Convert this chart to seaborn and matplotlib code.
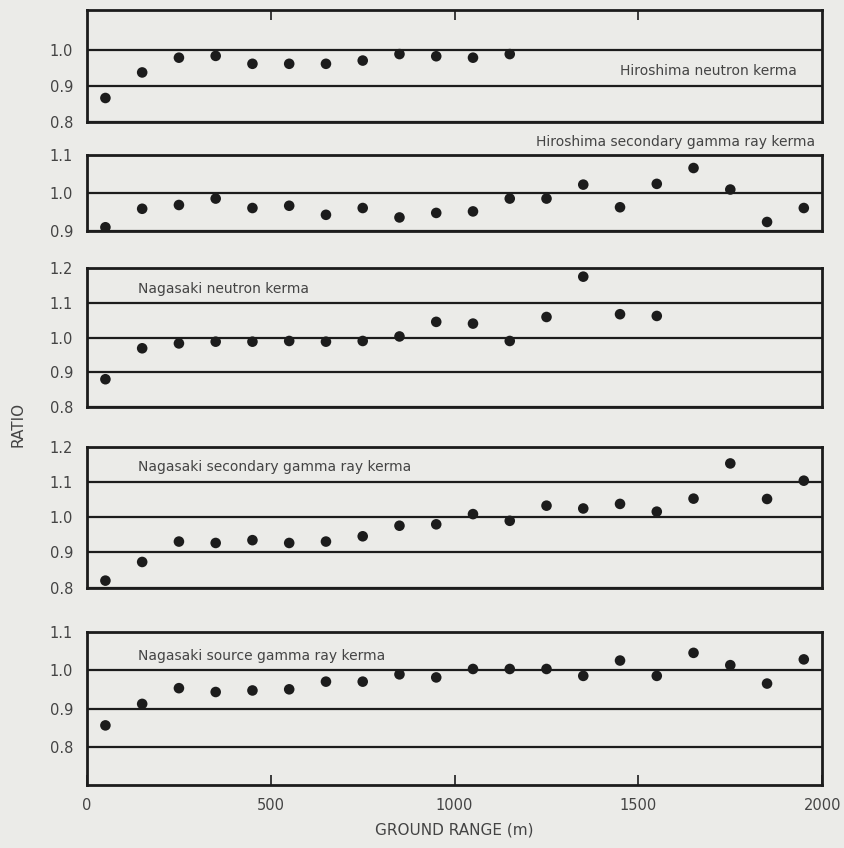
import matplotlib.pyplot as plt
import seaborn as sns
import pandas as pd

# ground range of each measurement (m)
ground_range = [50, 150, 250, 350, 450, 550, 650, 750, 850, 950,
                1050, 1150, 1250, 1350, 1450, 1550, 1650, 1750, 1850, 1950]

# ratios
hiro_neutron = [0.867, 0.938, 0.979, 0.984, 0.962, 0.962, 0.962, 0.971,
                0.989, 0.983, 0.979, 0.989]
hiro_sec_gamma = [0.909, 0.958, 0.968, 0.985, 0.960, 0.966, 0.942, 0.960,
                  0.935, 0.947, 0.951, 0.985, 0.985, 1.022, 0.962, 1.024,
                  1.066, 1.009, 0.923, 0.960]
naga_neutron = [0.880, 0.969, 0.983, 0.988, 0.988, 0.990, 0.988, 0.990,
                1.003, 1.045, 1.040, 0.990, 1.059, 1.175, 1.067, 1.062]
naga_sec_gamma = [0.820, 0.873, 0.931, 0.927, 0.935, 0.927, 0.931, 0.946,
                  0.976, 0.980, 1.009, 0.990, 1.033, 1.025, 1.038, 1.016,
                  1.053, 1.153, 1.052, 1.104]
naga_src_gamma = [0.856, 0.912, 0.953, 0.943, 0.947, 0.950, 0.970, 0.970,
                  0.989, 0.981, 1.003, 1.003, 1.003, 0.985, 1.025, 0.985,
                  1.045, 1.013, 0.965, 1.028]

panel_names = ["Hiroshima neutron kerma",
               "Hiroshima secondary gamma ray kerma",
               "Nagasaki neutron kerma",
               "Nagasaki secondary gamma ray kerma",
               "Nagasaki source gamma ray kerma"]
panel_values = [hiro_neutron, hiro_sec_gamma, naga_neutron,
                naga_sec_gamma, naga_src_gamma]
panel_ticks = [[0.8, 0.9, 1.0],
               [0.9, 1.0, 1.1],
               [0.8, 0.9, 1.0, 1.1, 1.2],
               [0.8, 0.9, 1.0, 1.1, 1.2],
               [0.8, 0.9, 1.0, 1.1]]
x_ticks = [0, 500, 1000, 1500, 2000]

paper = "#ebebe8"
ink = "#1c1c1c"
grey_text = "#444444"

sns.set_theme(style="white", rc={"figure.facecolor": paper, "axes.facecolor": paper})
plt.rcParams["font.family"] = ["DejaVu Sans"]

fig = plt.figure(figsize=(8.45, 8.48), dpi=100)

# axes rectangles [left, bottom, width, height] in figure fraction
rects = [[0.103, 0.856, 0.870, 0.132],
         [0.103, 0.728, 0.870, 0.089],
         [0.103, 0.520, 0.870, 0.164],
         [0.103, 0.307, 0.870, 0.166],
         [0.103, 0.074, 0.870, 0.181]]
ylims = [(0.8, 1.111), (0.9, 1.1), (0.8, 1.2), (0.8, 1.2), (0.7, 1.1)]
label_pos = [(0.965, 0.455, "right"), (0.99, 1.17, "right"),
             (0.069, 0.85, "left"), (0.069, 0.858, "left"),
             (0.069, 0.843, "left")]

for i in range(5):
    ax = fig.add_axes(rects[i])
    vals = panel_values[i]
    df = pd.DataFrame({"range": ground_range[:len(vals)], "ratio": vals})
    sns.scatterplot(data=df, x="range", y="ratio", ax=ax, color=ink,
                    s=58, edgecolor="none", legend=False, zorder=3)
    ax.set_xlim(0, 2000)
    ax.set_ylim(*ylims[i])
    ax.set_yticks(panel_ticks[i])
    ax.set_yticklabels([f"{t:.1f}" for t in panel_ticks[i]])
    ax.grid(axis="y", color=ink, linewidth=1.6)
    ax.grid(axis="x", visible=False)
    ax.set_axisbelow(True)
    ax.set_xlabel("")
    ax.set_ylabel("")
    for sp in ax.spines.values():
        sp.set_color(ink)
        sp.set_linewidth(2)
    ax.tick_params(axis="y", length=0, pad=10, labelsize=10.5, labelcolor=grey_text)

    if i == 0:
        ax.set_xticks([500, 1000, 1500])
        ax.tick_params(axis="x", top=True, bottom=False, direction="in",
                       length=7, width=1.2, color=ink, labelbottom=False)
    elif i == 4:
        ax.set_xticks(x_ticks)
        ax.set_xticklabels([str(t) for t in x_ticks])
        ax.tick_params(axis="x", bottom=True, direction="in", length=7,
                       width=1.2, color=ink, pad=9, labelsize=10.5,
                       labelcolor=grey_text)
    else:
        ax.set_xticks([])

    lx, ly, ha = label_pos[i]
    ax.text(lx, ly, panel_names[i], transform=ax.transAxes, ha=ha,
            va="center", fontsize=10, color=grey_text)

fig.text(0.021, 0.5, "RATIO", rotation=90, ha="center", va="center",
         fontsize=11, color=grey_text)
fig.text(0.538, 0.021, "GROUND RANGE (m)", ha="center", va="center",
         fontsize=11, color=grey_text)

fig.savefig("out.png", dpi=100, facecolor=paper)
